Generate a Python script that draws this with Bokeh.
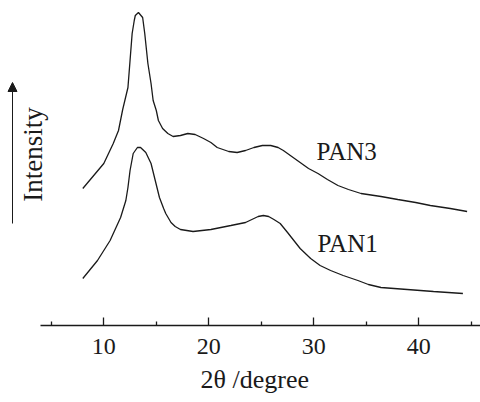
import math
from bokeh.plotting import figure
from bokeh.models import Range1d, FixedTicker, Label, Arrow, NormalHead, Title
from bokeh.embed import file_html
from bokeh.resources import INLINE

# --- data (2θ in degrees, intensity in arbitrary units) ---
pan3_2theta = [8.0, 10.0, 10.9, 11.4, 11.8, 12.3, 12.5, 12.7, 12.9, 13.0, 13.3, 13.7, 13.9,
               14.2, 14.5, 14.7, 15.0, 15.2, 15.6, 16.1, 16.6, 17.3, 18.0, 18.7, 19.5, 20.2,
               20.8, 21.9, 22.7, 23.5, 24.3, 25.1, 25.9, 26.6, 27.1, 27.9, 28.7, 29.5, 30.4,
               31.3, 32.3, 33.3, 34.5, 36.4, 38.0, 39.7, 41.1, 43.0, 44.6]
pan3_intensity = [137, 162, 182, 195, 216, 238, 265, 292, 305, 310, 313, 308, 292,
                  262, 242, 225, 215, 205, 197, 192, 189, 190, 192, 191, 187, 183,
                  178, 174, 173, 175, 178, 180, 180, 178, 175, 169, 163, 157, 152,
                  146, 140, 136, 132, 129, 126, 123, 120, 117, 114]

pan1_2theta = [8.0, 9.4, 10.6, 11.6, 12.1, 12.3, 12.5, 12.8, 13.2, 13.5, 14.0, 14.5, 14.9,
               15.3, 15.7, 15.9, 16.4, 16.8, 17.3, 18.5, 20.2, 22.1, 23.5, 24.3, 24.7,
               25.2, 25.7, 26.2, 26.8, 27.5, 28.1, 28.7, 29.7, 30.6, 31.6, 32.8, 34.2,
               35.2, 36.4, 38.9, 41.4, 44.2]
pan1_intensity = [47, 65, 85, 108, 125, 138, 155, 172, 178, 178, 173, 162, 145,
                  128, 117, 112, 103, 99, 96, 94, 96, 100, 103, 107, 109,
                  110, 109, 106, 102, 93, 85, 77, 67, 60, 55, 50, 45,
                  41, 38, 36, 34, 32]

major_ticks = [10, 20, 30, 40]
minor_ticks = [5, 15, 25, 35, 45]
series_names = ["PAN3", "PAN1"]
x_title = "2θ /degree"
y_title = "Intensity"

FONT = "Liberation Serif"
INK = "#1a1a1a"

p = figure(width=480, height=402, output_backend="svg", toolbar_location=None,
           x_range=Range1d(0.162, 45.876), y_range=Range1d(0, 325),
           y_axis_location=None,
           min_border_left=0, min_border_right=0, min_border_top=0, min_border_bottom=77)
p.outline_line_color = None
p.grid.visible = False
p.background_fill_color = "white"
p.border_fill_color = "white"

p.line(pan3_2theta, pan3_intensity, line_color=INK, line_width=1.3)
p.line(pan1_2theta, pan1_intensity, line_color=INK, line_width=1.3)

ax = p.xaxis[0]
ax.ticker = FixedTicker(ticks=major_ticks, minor_ticks=minor_ticks)
ax.bounds = (3.97, 45.876)
ax.axis_line_color = INK
ax.axis_line_width = 1.3
ax.major_tick_in = 8
ax.major_tick_out = 0
ax.minor_tick_in = 4
ax.minor_tick_out = 0
ax.major_tick_line_color = INK
ax.minor_tick_line_color = INK
ax.major_tick_line_width = 1.3
ax.minor_tick_line_width = 1.3
ax.major_label_text_font = FONT
ax.major_label_text_font_size = "24px"
ax.major_label_text_color = INK
ax.major_label_standoff = 13

# x-axis title, placed in the panel below the axis
p.add_layout(Title(text=x_title, align="left", offset=200, standoff=13,
                   text_font=FONT, text_font_size="26px", text_font_style="normal",
                   text_color=INK), "below")

# Intensity arrow and label
p.add_layout(Arrow(end=NormalHead(size=9, fill_color=INK, line_color=INK, line_width=1),
                   x_start=1.305, y_start=102, x_end=1.305, y_end=243,
                   line_color=INK, line_width=1))
p.add_layout(Label(x=3.3, y=171, text=y_title, angle=math.pi / 2,
                   text_align="center", text_baseline="alphabetic",
                   text_font=FONT, text_font_size="27px", text_color=INK))

# series labels
p.add_layout(Label(x=30.26, y=174, text=series_names[0], text_align="left",
                   text_baseline="alphabetic", text_font=FONT, text_font_size="25px",
                   text_color=INK))
p.add_layout(Label(x=30.35, y=82, text=series_names[1], text_align="left",
                   text_baseline="alphabetic", text_font=FONT, text_font_size="25px",
                   text_color=INK))

open("out.html", "w").write(file_html(p, INLINE))
